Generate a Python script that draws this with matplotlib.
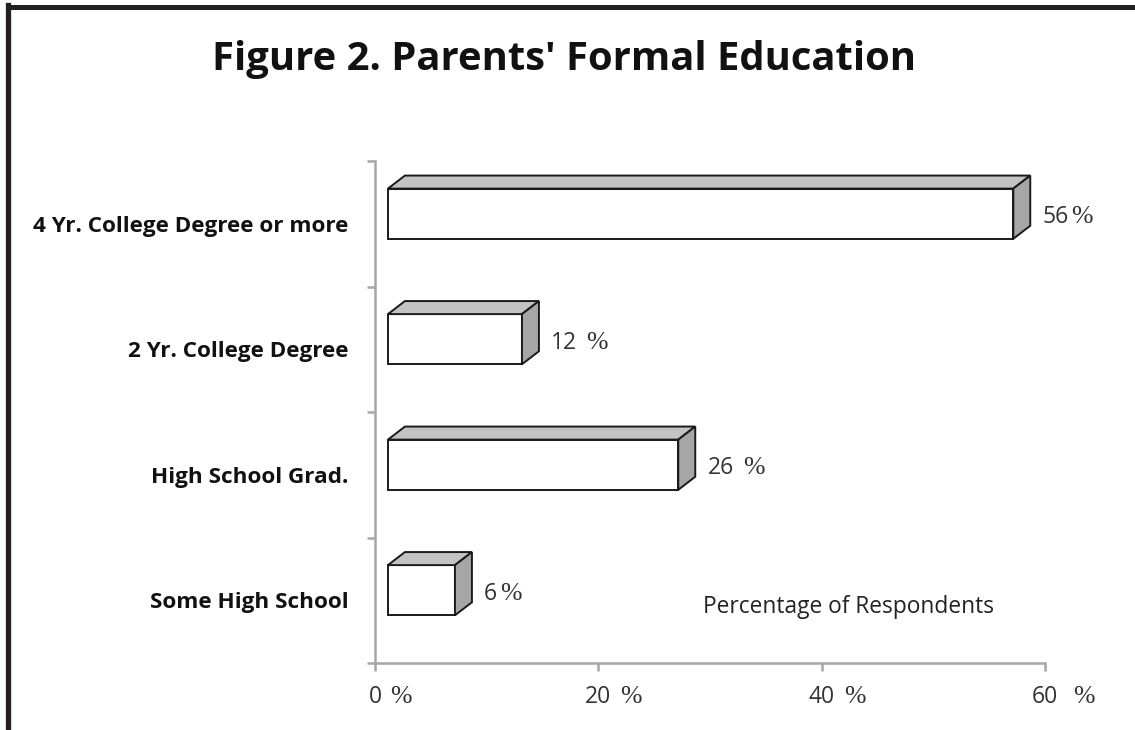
import matplotlib.pyplot as plt
from matplotlib.patches import Polygon
from matplotlib.lines import Line2D

categories = ['Some High School', 'High School Grad.', '2 Yr. College Degree',
              '4 Yr. College Degree or more']
values = [6, 26, 12, 56]
value_labels = ['6%', '26 %', '12 %', '56%']
xticks = [0, 20, 40, 60]
xtick_labels = ['0 %', '20 %', '40 %', '60  %']

SANS = 'Open Sans'
SERIF = 'Liberation Serif'

# 3d box geometry in data units
base = 1.16      # front face starts a little right of the axis
dx = 1.52        # depth to the right
dy = 0.104       # depth upward
half_h = 0.2
lift = 0.08

fig = plt.figure(figsize=(11.35, 7.3), dpi=100)
ax = fig.add_axes([375/1135, 67/730, 670/1135, 502/730])
ax.set_xlim(0, 60)
ax.set_ylim(-0.5, 3.5)

for i, v in enumerate(values):
    yc = i + lift
    x0, x1 = base, base + v
    y0, y1 = yc - half_h, yc + half_h
    front = Polygon([(x0, y0), (x1, y0), (x1, y1), (x0, y1)], closed=True,
                    facecolor='white', edgecolor='#1a1a1a', lw=1.4, zorder=3)
    top = Polygon([(x0, y1), (x0 + dx, y1 + dy), (x1 + dx, y1 + dy), (x1, y1)],
                  closed=True, facecolor='#c3c3c3', edgecolor='#1a1a1a', lw=1.4, zorder=3)
    side = Polygon([(x1, y0), (x1 + dx, y0 + dy), (x1 + dx, y1 + dy), (x1, y1)],
                   closed=True, facecolor='#a6a6a6', edgecolor='#1a1a1a', lw=1.4, zorder=3)
    for p in (front, top, side):
        ax.add_patch(p)


def pct_text(x, y, label, transform, ha, size, color):
    # digits in the sans face, the percent sign in a serif face
    num = label.rstrip('% ')
    gap = len(label) - len(num) - 1
    t = ax.text(x, y, num, ha=ha, va='center', fontsize=size, family=SANS,
                color=color, transform=transform)
    ax.annotate('%', xy=(1, 0.5), xycoords=t, xytext=(2 + 4.5 * gap, 0),
                textcoords='offset points', ha='left', va='center',
                fontsize=size + 2, family=SERIF, color=color)


for i, (v, lab) in enumerate(zip(values, value_labels)):
    pct_text(base + v + dx + 1.1, i + lift - 0.03, lab, ax.transData, 'left', 16.5, '#333333')

for xt, lab in zip(xticks, xtick_labels):
    pct_text(xt, -0.068, lab, ax.get_xaxis_transform(), 'center', 16.5, '#333333')

# axes styling
for s in ('top', 'right'):
    ax.spines[s].set_visible(False)
for s in ('left', 'bottom'):
    ax.spines[s].set_color('#a6a6a6')
    ax.spines[s].set_linewidth(1.8)

ax.set_xticks(xticks)
ax.set_xticklabels([])
ax.tick_params(axis='x', direction='out', length=6, width=1.8, color='#a6a6a6')

ax.set_yticks(range(len(categories)))
ax.set_yticklabels(categories, fontsize=16.2, fontweight='bold', family=SANS, color='#111111')
ax.tick_params(axis='y', which='major', length=0, pad=19)
ax.set_yticks([-0.5, 0.5, 1.5, 2.5, 3.5], minor=True)
ax.tick_params(axis='y', which='minor', direction='out', length=6, width=1.8, color='#a6a6a6')

ax.text(0.4896, 0.1116, 'Percentage of Respondents', transform=ax.transAxes,
        ha='left', va='center', fontsize=16.4, family=SANS, color='#222222')

fig.text(0.497, 0.918, "Figure 2. Parents' Formal Education", ha='center', va='center',
         fontsize=28.8, fontweight='bold', family=SANS, color='#111111')

# frame along the top and left edges
fig.add_artist(Line2D([7.5/1135, 1], [723/730, 723/730], color='#231f20', lw=3.6,
                      transform=fig.transFigure))
fig.add_artist(Line2D([7.5/1135, 7.5/1135], [0, 725/730], color='#231f20', lw=3.8,
                      transform=fig.transFigure))

fig.savefig('out.png', dpi=100)
